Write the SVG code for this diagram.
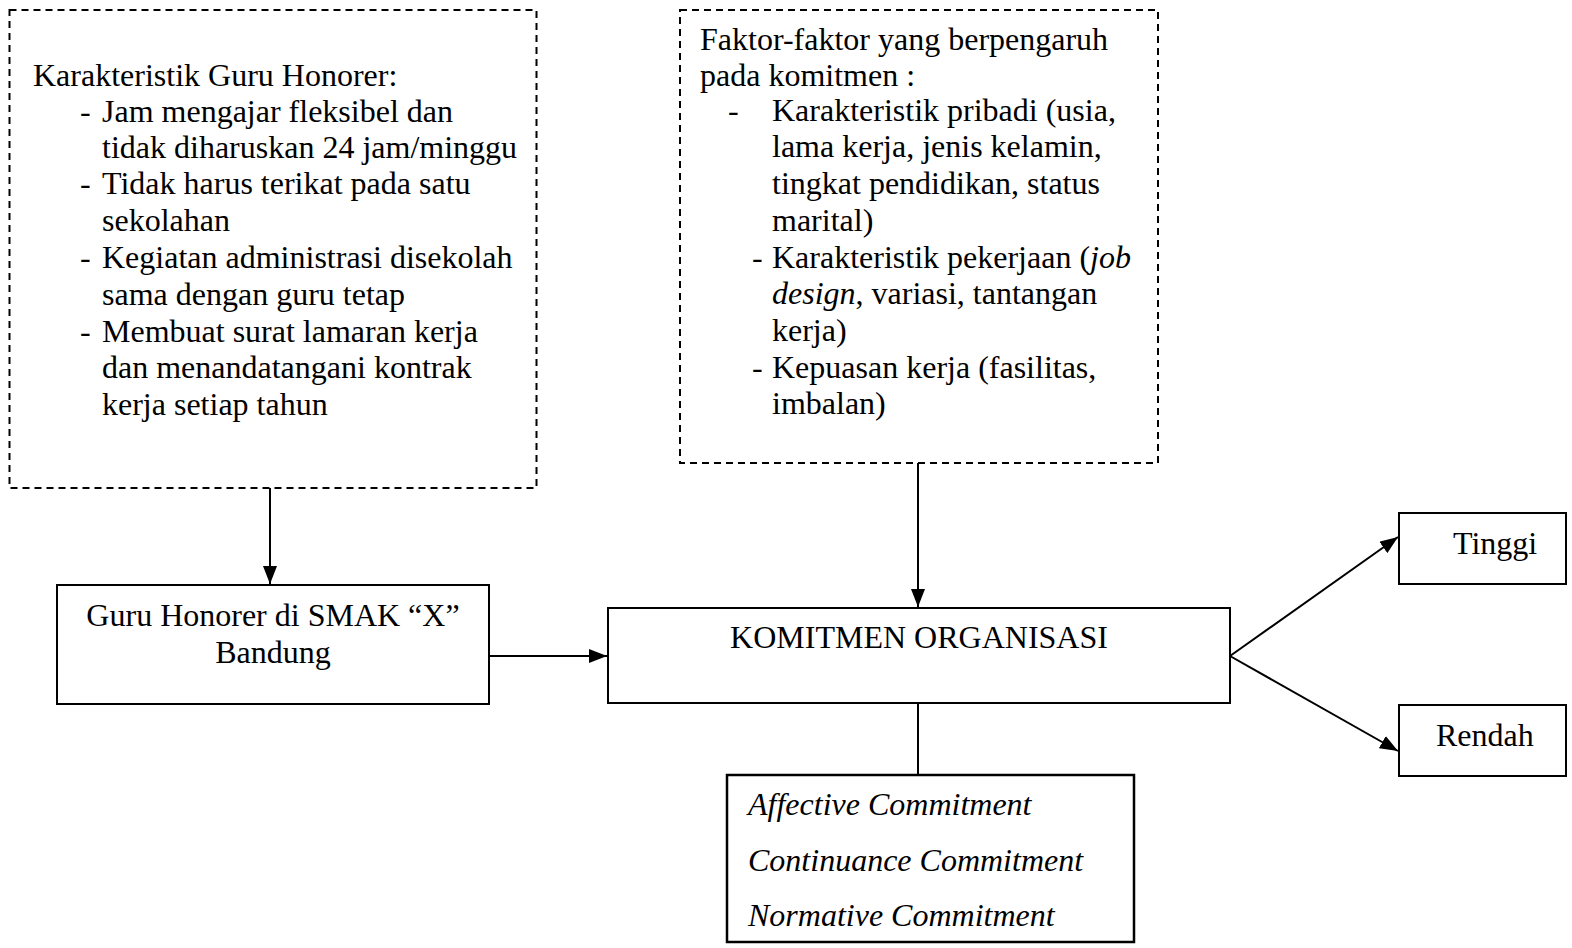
<svg xmlns="http://www.w3.org/2000/svg" width="1572" height="948" viewBox="0 0 1572 948">
<defs>
<style>
.t{font-family:"Liberation Serif","Times New Roman",serif;font-size:32px;fill:#000}
.i{font-style:italic}
.box{fill:#fff;stroke:#000;stroke-width:2}
.dash{fill:none;stroke:#000;stroke-width:2;stroke-dasharray:7 5}
.ln{stroke:#000;stroke-width:2;fill:none}
</style>
<marker id="ah" viewBox="0 0 18 14" refX="18" refY="7" markerWidth="18" markerHeight="14" markerUnits="userSpaceOnUse" orient="auto">
<path d="M0,0 L18,7 L0,14 z" fill="#000"/>
</marker>
</defs>
<rect width="1572" height="948" fill="#fff"/>

<g id="connectors">
<line class="ln" x1="270" y1="488" x2="270" y2="584" marker-end="url(#ah)"/>
<line class="ln" x1="918" y1="463" x2="918" y2="607" marker-end="url(#ah)"/>
<line class="ln" x1="489" y1="656" x2="607" y2="656" marker-end="url(#ah)"/>
<line class="ln" x1="918" y1="703" x2="918" y2="775"/>
<line class="ln" x1="1230" y1="656" x2="1398" y2="537" marker-end="url(#ah)"/>
<line class="ln" x1="1230" y1="656" x2="1398" y2="751" marker-end="url(#ah)"/>
</g>

<g id="karakteristik">
<rect class="dash" x="9.5" y="10" width="527" height="478"/>
<text class="t" x="33" y="86">Karakteristik Guru Honorer:</text>
<text class="t" x="80" y="122">-</text>
<text class="t" x="102" y="122">Jam mengajar fleksibel dan</text>
<text class="t" x="102" y="158">tidak diharuskan 24 jam/minggu</text>
<text class="t" x="80" y="194">-</text>
<text class="t" x="102" y="194">Tidak harus terikat pada satu</text>
<text class="t" x="102" y="231">sekolahan</text>
<text class="t" x="80" y="268">-</text>
<text class="t" x="102" y="268">Kegiatan administrasi disekolah</text>
<text class="t" x="102" y="305">sama dengan guru tetap</text>
<text class="t" x="80" y="342">-</text>
<text class="t" x="102" y="342">Membuat surat lamaran kerja</text>
<text class="t" x="102" y="378">dan menandatangani kontrak</text>
<text class="t" x="102" y="415">kerja setiap tahun</text>
</g>

<g id="faktor">
<rect class="dash" x="680" y="10" width="478" height="453"/>
<text class="t" x="700" y="50">Faktor-faktor yang berpengaruh</text>
<text class="t" x="700" y="86">pada komitmen :</text>
<text class="t" x="728" y="121">-</text>
<text class="t" x="772" y="121">Karakteristik pribadi (usia,</text>
<text class="t" x="772" y="157">lama kerja, jenis kelamin,</text>
<text class="t" x="772" y="194">tingkat pendidikan, status</text>
<text class="t" x="772" y="231">marital)</text>
<text class="t" x="752" y="268">-</text>
<text class="t" x="772" y="268">Karakteristik pekerjaan (<tspan class="i">job</tspan></text>
<text class="t" x="772" y="304"><tspan class="i">design</tspan>, variasi, tantangan</text>
<text class="t" x="772" y="341">kerja)</text>
<text class="t" x="752" y="378">-</text>
<text class="t" x="772" y="378">Kepuasan kerja (fasilitas,</text>
<text class="t" x="772" y="414">imbalan)</text>
</g>

<g id="guru">
<rect class="box" x="57" y="585" width="432" height="119"/>
<text class="t" x="273" y="626" text-anchor="middle">Guru Honorer di SMAK “X”</text>
<text class="t" x="273" y="663" text-anchor="middle">Bandung</text>
</g>

<g id="komitmen">
<rect class="box" x="608" y="608" width="622" height="95"/>
<text class="t" x="919" y="648" text-anchor="middle">KOMITMEN ORGANISASI</text>
</g>

<g id="dimensi">
<rect class="box" x="727" y="775" width="407" height="167" style="stroke-width:2.5"/>
<text class="t i" x="748" y="815">Affective Commitment</text>
<text class="t i" x="748" y="871">Continuance Commitment</text>
<text class="t i" x="748" y="926">Normative Commitment</text>
</g>

<g id="tinggi">
<rect class="box" x="1399" y="513" width="167" height="71"/>
<text class="t" x="1453" y="554">Tinggi</text>
</g>

<g id="rendah">
<rect class="box" x="1399" y="705" width="167" height="71"/>
<text class="t" x="1436" y="746">Rendah</text>
</g>
</svg>
